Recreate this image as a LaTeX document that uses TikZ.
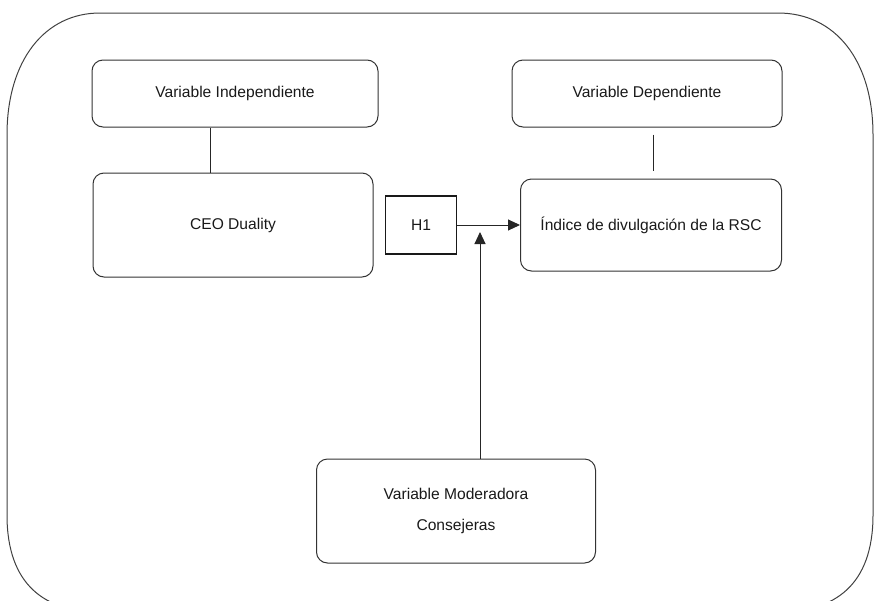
\documentclass[tikz,border=0pt]{standalone}
\usepackage{fontspec}
\setmainfont{Liberation Sans}
\usetikzlibrary{arrows.meta}

\begin{document}
\begin{tikzpicture}[x=1pt, y=-1pt,
  every node/.style={font=\fontsize{15.6}{18.5}\selectfont, text=black!90},
  varbox/.style={draw=black!80, line width=1pt, rounded corners=11pt, align=center},
  hbox/.style={draw=black!90, line width=1.5pt},
  link/.style={draw=black!85, line width=1pt},
  arr/.style={link, -{Triangle[length=12pt,width=11pt]}}]
% Page and outer frame
\clip (0,0) rectangle (878,600);
\draw[black!75, line width=1pt] (100,13) -- (778,13)
  .. controls (835,13) and (873,60) .. (873,135) -- (873,515)
  .. controls (873,585) and (835,612) .. (778,612) -- (100,612)
  .. controls (45,612) and (7,585) .. (7,515) -- (7,135)
  .. controls (7,60) and (45,13) .. (100,13) -- cycle;

% Top labels
\node[varbox, minimum width=286pt, minimum height=67pt] (indep) at (235,93.5) {Variable Independiente};
\node[varbox, minimum width=270pt, minimum height=67pt] (dep) at (647,93.5) {Variable Dependiente};

% Main variables
\node[varbox, minimum width=280pt, minimum height=104pt] (ceo) at (233,225) {CEO Duality};
\node[hbox, minimum width=71pt, minimum height=58pt] (h1) at (421,225) {H1};
\node[varbox, minimum width=261pt, minimum height=92pt] (rsc) at (651,225) {Índice de divulgación de la RSC};

% Moderator
\node[varbox, minimum width=279pt, minimum height=104pt] (mod) at (456,511) {Variable Moderadora\\[12pt]Consejeras};
\coordinate (hit) at (480,232);

% Connectors
\draw[link] ([xshift=-25pt]indep.south) -- ([xshift=-25pt]indep.south |- ceo.north);
\draw[link, shorten <=7pt, shorten >=8pt] ([xshift=6pt]dep.south) -- ([xshift=6pt]dep.south |- rsc.north);
\draw[arr] (h1.east) -- (rsc.west);
\draw[arr] (mod.north -| hit) -- (hit);
\end{tikzpicture}
\end{document}
